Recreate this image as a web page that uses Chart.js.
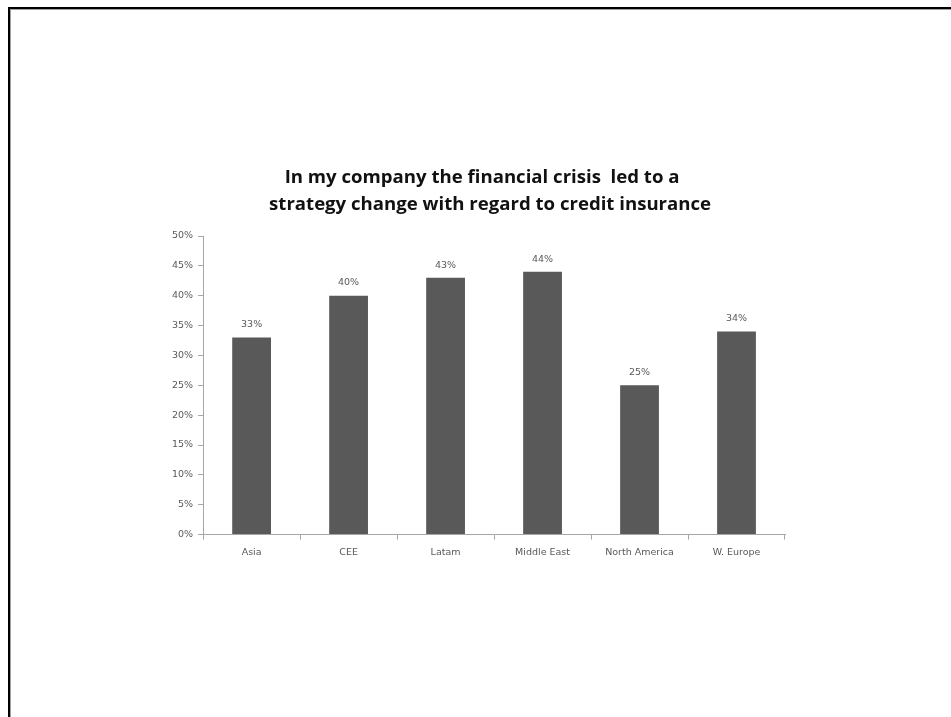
<!DOCTYPE html>
<html>
<head>
<meta charset="utf-8">
<script src="https://cdn.jsdelivr.net/npm/chart.js@4"></script>
<style>
  html, body { margin: 0; padding: 0; background: #fff; }
  #frame {
    position: absolute; left: 8px; top: 7px; width: 943px; height: 710px;
    border-left: 2px solid #000; border-top: 2px solid #000;
    box-shadow: inset 1px 1px 0 #a0a0a0;
  }
  #wrap { position: absolute; left: 0; top: 0; width: 951px; height: 717px; }
</style>
</head>
<body>
<div id="frame"></div>
<div id="wrap"><canvas id="myChart"></canvas></div>
<script>
const regions = ["Asia", "CEE", "Latam", "Middle East", "North America", "W. Europe"];
const shares = [0.33, 0.40, 0.43, 0.44, 0.25, 0.34];
const titleLines = ["In my company the financial crisis  led to a", "strategy change with regard to credit insurance"];

const smallFont = { family: "'DejaVu Sans', sans-serif", size: 9.5 };

// value labels above bars
const barLabels = {
    id: "barLabels",
    afterDatasetsDraw(chart) {
        const ctx = chart.ctx;
        const meta = chart.getDatasetMeta(0);
        ctx.save();
        ctx.font = "9.5px 'DejaVu Sans', sans-serif";
        ctx.fillStyle = "#595959";
        ctx.textAlign = "center";
        ctx.textBaseline = "bottom";
        meta.data.forEach((bar, i) => {
            const v = chart.data.datasets[0].data[i];
            ctx.fillText(Math.round(v * 100) + "%", bar.x, bar.y - 8);
        });
        ctx.restore();
    }
};

// two-line title, lines centred a bit left of the plot like the original
const chartTitle = {
    id: "chartTitle",
    afterDraw(chart) {
        const ctx = chart.ctx;
        const mid = (chart.chartArea.left + chart.chartArea.right) / 2;
        ctx.save();
        ctx.font = "bold 18.6px 'Open Sans', sans-serif";
        ctx.fillStyle = "#111";
        ctx.textAlign = "center";
        ctx.textBaseline = "alphabetic";
        ctx.fillText(titleLines[0], mid - 12, chart.chartArea.top - 53);
        ctx.fillText(titleLines[1], mid - 4, chart.chartArea.top - 26);
        ctx.restore();
    }
};

const myChart = new Chart("myChart", {
    type: "bar",
    data: {
        labels: regions,
        datasets: [{
            data: shares,
            backgroundColor: "#595959",
            borderWidth: 0,
            barPercentage: 0.4,
            categoryPercentage: 1.0
        }]
    },
    options: {
        responsive: true,
        maintainAspectRatio: false,
        animation: false,
        layout: { padding: { left: 167, right: 166, top: 236, bottom: 152 } },
        plugins: {
            legend: { display: false },
            tooltip: { enabled: false },
            title: { display: false }
        },
        scales: {
            x: {
                grid: { display: true, drawOnChartArea: false, drawTicks: true, tickLength: 5, color: "#a6a6a6" },
                border: { display: true, color: "#a6a6a6" },
                ticks: { color: "#595959", font: smallFont, padding: 7, maxRotation: 0 }
            },
            y: {
                min: 0,
                max: 0.5,
                grid: { display: true, drawOnChartArea: false, drawTicks: true, tickLength: 5, color: "#a6a6a6" },
                border: { display: true, color: "#a6a6a6" },
                ticks: {
                    stepSize: 0.05,
                    color: "#595959",
                    font: smallFont,
                    padding: 5,
                    callback: (v) => Math.round(v * 100) + "%"
                }
            }
        }
    },
    plugins: [barLabels, chartTitle]
});
</script>
</body>
</html>
